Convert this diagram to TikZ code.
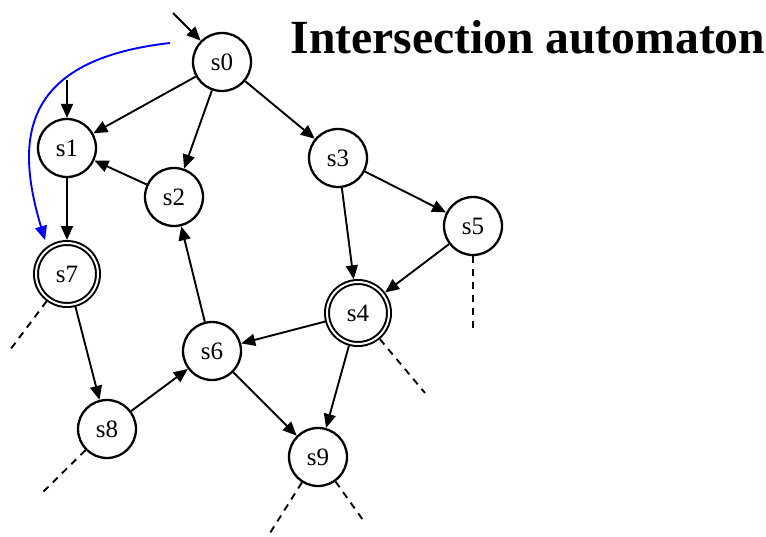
\documentclass[tikz,border=0pt]{standalone}
\usepackage{fontspec}
\setmainfont{Liberation Serif}
\usetikzlibrary{arrows.meta}

\begin{document}
\begin{tikzpicture}[x=1pt,y=-1pt,
    >={Triangle[length=14pt,width=12pt]},
    state/.style={circle,draw,line width=2.3pt,minimum size=58pt,inner sep=0pt,
        font=\fontsize{25}{27}\selectfont},
    accept/.style={state,double,line width=2pt,double distance=2pt,minimum size=62pt,outer sep=3pt},
    edge/.style={line width=1.9pt},
    open/.style={line width=1.9pt,dash pattern=on 7pt off 6pt}]
    \useasboundingbox (0,0) rectangle (766,536);
    \node[anchor=base west,font=\fontsize{47.6}{50}\selectfont\bfseries] (title) at (287,53) {Intersection automaton};
    % states
    \node[state] (s0) at (222,62) {s0};
    \node[state] (s1) at (67,148) {s1};
    \node[state] (s2) at (174,197) {s2};
    \node[state] (s3) at (338,158) {s3};
    \node[state] (s5) at (473,226) {s5};
    \node[accept] (s7) at (67,274) {s7};
    \node[accept] (s4) at (358,313) {s4};
    \node[state] (s6) at (212,351) {s6};
    \node[state] (s8) at (107,429) {s8};
    \node[state] (s9) at (318,457) {s9};
    % loose ends
    \coordinate (in0) at (173,13);
    \coordinate (in1) at (67,80);
    \coordinate (b0) at (170,43);
    \coordinate (b1) at (45,240);
    \coordinate (d7) at (10,350);
    \coordinate (d4) at (425,393);
    \coordinate (d5) at (473,332);
    \coordinate (d8) at (42,493);
    \coordinate (d9a) at (270,533);
    \coordinate (d9b) at (363,520);
    \draw [edge,->] (in0) -- (s0);
    \draw [edge,->] (in1) -- (s1);
    \draw [edge,blue,->] (b0) .. controls (20,60) and (15,140) .. (b1);
    \draw [edge,->] (s0) -- (s1);
    \draw [edge,->] (s0) -- (s2);
    \draw [edge,->] (s0) -- (s3);
    \draw [edge,->] (s2) -- (s1);
    \draw [edge,->] (s1) -- (s7);
    \draw [edge,->] (s3) -- (s4);
    \draw [edge,->] (s3) -- (s5);
    \draw [edge,->] (s5) -- (s4);
    \draw [edge,->] (s4) -- (s6);
    \draw [edge,->] (s4) -- (s9);
    \draw [edge,->] (s6) -- (s2);
    \draw [edge,->] (s6) -- (s9);
    \draw [edge,->] (s7) -- (s8);
    \draw [edge,->] (s8) -- (s6);
    \draw [open] (s7) -- (d7);
    \draw [open] (s4) -- (d4);
    \draw [open] (s5) -- (d5);
    \draw [open] (s8) -- (d8);
    \draw [open] (s9) -- (d9a);
    \draw [open] (s9) -- (d9b);
\end{tikzpicture}
\end{document}
